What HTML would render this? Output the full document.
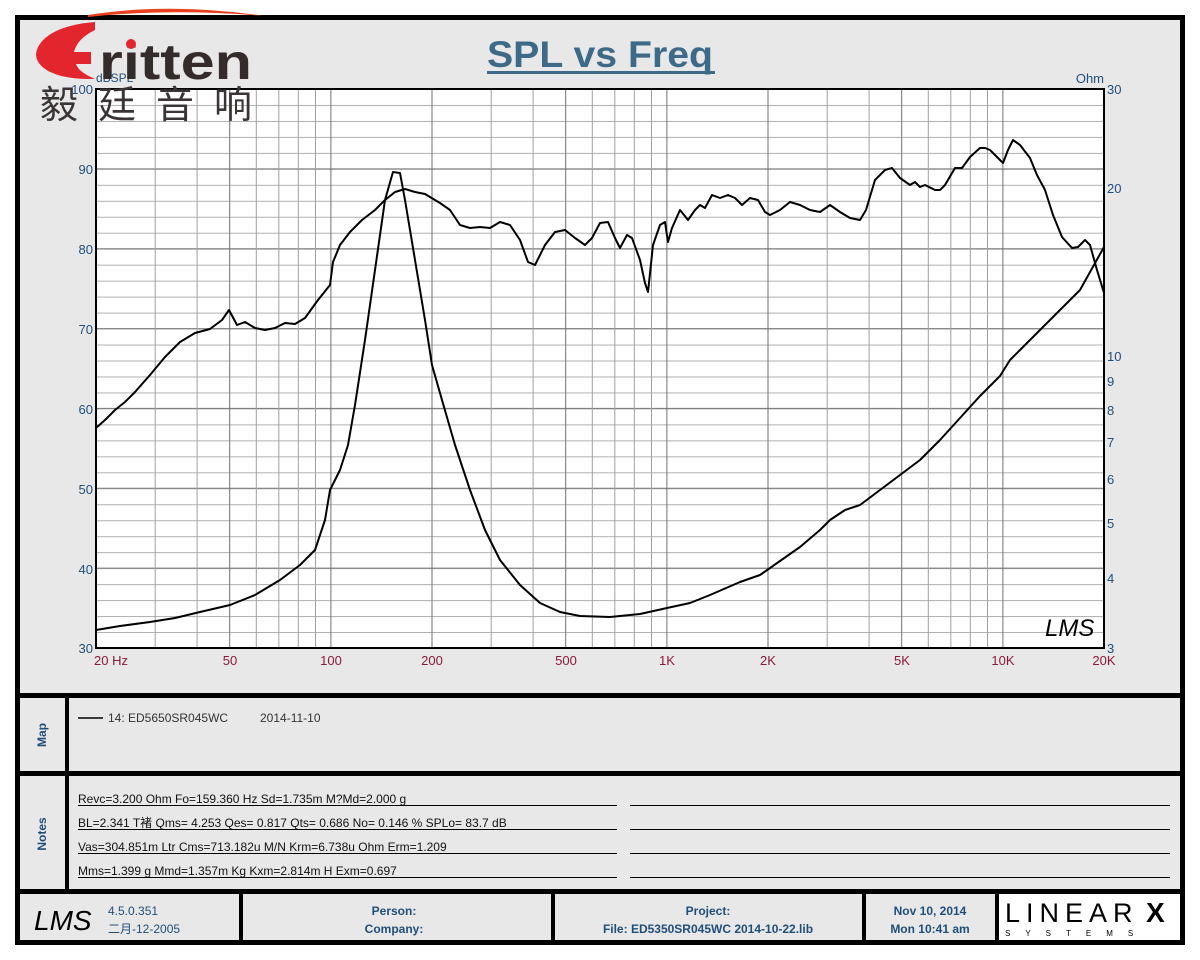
<!DOCTYPE html>
<html><head><meta charset="utf-8"><style>
html,body{margin:0;padding:0;background:#fff;}
svg{display:block;}
text{font-family:"Liberation Sans","Noto Sans CJK SC",sans-serif;}
</style></head><body>
<svg width="1200" height="960" viewBox="0 0 1200 960" xmlns="http://www.w3.org/2000/svg">
<defs>
<pattern id="hmin" patternUnits="userSpaceOnUse" x="0" y="89" width="10" height="15.971"><line x1="0" y1="0.5" x2="10" y2="0.5" stroke="#b0b0b0" stroke-width="1"/></pattern>
</defs>
<rect x="0" y="0" width="1200" height="960" fill="#fff"/>
<rect x="17.5" y="17.5" width="1165" height="925" fill="#e8e8e8" stroke="#000" stroke-width="5"/>
<!-- plot -->
<rect x="96" y="89" width="1008" height="559" fill="#fff"/>
<rect x="96" y="89" width="1008" height="559" fill="url(#hmin)"/>
<g stroke="#7a7a7a" stroke-width="1">
<line x1="96" x2="1104" y1="168.9" y2="168.9"/><line x1="96" x2="1104" y1="248.7" y2="248.7"/><line x1="96" x2="1104" y1="328.6" y2="328.6"/><line x1="96" x2="1104" y1="408.4" y2="408.4"/><line x1="96" x2="1104" y1="488.3" y2="488.3"/><line x1="96" x2="1104" y1="568.1" y2="568.1"/>
</g>
<g stroke="#a0a0a0" stroke-width="1">
<line x1="155.2" x2="155.2" y1="89" y2="648"/><line x1="197.1" x2="197.1" y1="89" y2="648"/><line x1="256.3" x2="256.3" y1="89" y2="648"/><line x1="278.8" x2="278.8" y1="89" y2="648"/><line x1="298.3" x2="298.3" y1="89" y2="648"/><line x1="315.5" x2="315.5" y1="89" y2="648"/>
<line x1="491.2" x2="491.2" y1="89" y2="648"/><line x1="533.1" x2="533.1" y1="89" y2="648"/><line x1="592.3" x2="592.3" y1="89" y2="648"/><line x1="614.8" x2="614.8" y1="89" y2="648"/><line x1="634.3" x2="634.3" y1="89" y2="648"/><line x1="651.5" x2="651.5" y1="89" y2="648"/>
<line x1="827.2" x2="827.2" y1="89" y2="648"/><line x1="869.1" x2="869.1" y1="89" y2="648"/><line x1="928.3" x2="928.3" y1="89" y2="648"/><line x1="950.8" x2="950.8" y1="89" y2="648"/><line x1="970.3" x2="970.3" y1="89" y2="648"/><line x1="987.5" x2="987.5" y1="89" y2="648"/>
</g>
<g stroke="#707070" stroke-width="1">
<line x1="229.7" x2="229.7" y1="89" y2="648"/><line x1="330.9" x2="330.9" y1="89" y2="648"/><line x1="432" x2="432" y1="89" y2="648"/><line x1="565.7" x2="565.7" y1="89" y2="648"/><line x1="666.9" x2="666.9" y1="89" y2="648"/><line x1="768" x2="768" y1="89" y2="648"/><line x1="901.7" x2="901.7" y1="89" y2="648"/><line x1="1002.9" x2="1002.9" y1="89" y2="648"/>
</g>
<polyline fill="none" stroke="#000" stroke-width="2" stroke-linejoin="round" points="96,428 105,420 115,410 125,402 135,392 150,375 165,357 180,342 195,333 210,329 222,320 229,310 237,325 245,322 255,328 265,330 275,328 285,323 295,324 305,318 318,300 330,285 333,262 340,245 350,232 362,220 375,210 385,200 395,192 405,189 415,192 425,194 440,203 450,210 460,225 470,228 480,227 490,228 500,222 510,225 520,240 528,262 535,265 545,245 555,232 565,230 575,238 585,245 592,238 600,223 608,222 615,238 620,248 627,235 632,238 640,260 645,283 648,292 653,245 660,225 665,222 668,242 672,228 680,210 688,220 695,210 700,205 705,208 712,195 720,198 728,195 735,198 742,205 750,198 758,200 765,212 770,215 780,210 790,202 800,205 810,210 820,212 830,205 840,212 850,218 860,220 866,210 875,180 885,170 892,168 900,178 910,185 915,182 920,187 925,185 935,190 940,190 945,185 955,168 962,168 970,157 980,148 985,148 990,150 997,157 1003,163 1008,150 1013,140 1020,145 1030,158 1037,175 1045,190 1053,215 1062,237 1072,248 1078,247 1085,240 1090,245 1097,270 1104,293"/>
<polyline fill="none" stroke="#000" stroke-width="2" stroke-linejoin="round" points="96,630 120,626 150,622 175,618 200,612 230,605 255,595 280,580 300,565 315,550 325,520 330,490 340,470 348,445 355,405 365,340 375,270 385,200 393,172 400,173 405,200 415,260 425,320 432,365 442,400 455,445 470,490 485,530 500,560 520,585 540,603 560,612 580,616 610,617 640,614 667,608 690,603 710,595 740,582 760,575 780,561 800,547 820,530 830,520 845,510 860,505 880,490 900,475 920,460 940,440 960,418 980,396 1000,376 1010,360 1020,350 1040,330 1060,310 1080,290 1104,247"/>
<rect x="96" y="89" width="1008" height="559" fill="none" stroke="#000" stroke-width="2"/>
<text x="1045" y="636" font-family="Liberation Serif,serif" font-style="italic" font-size="24" fill="#000">LMS</text>
<!-- axis labels -->
<g fill="#1f4e79" font-size="13" text-anchor="end">
<text x="93" y="94">100</text><text x="93" y="174">90</text><text x="93" y="254">80</text><text x="93" y="334">70</text><text x="93" y="414">60</text><text x="93" y="494">50</text><text x="93" y="574">40</text><text x="93" y="653">30</text>
</g>
<text x="96" y="82" fill="#1f4e79" font-size="12">dBSPL</text>
<g fill="#1f4e79" font-size="13">
<text x="1107" y="94">30</text><text x="1107" y="193">20</text><text x="1107" y="361">10</text><text x="1107" y="386">9</text><text x="1107" y="415">8</text><text x="1107" y="447">7</text><text x="1107" y="484">6</text><text x="1107" y="528">5</text><text x="1107" y="583">4</text><text x="1107" y="653">3</text>
</g>
<text x="1104" y="83" fill="#1f4e79" font-size="13" text-anchor="end">Ohm</text>
<g fill="#8b1a3a" font-size="13" text-anchor="middle">
<text x="111" y="665">20  Hz</text><text x="230" y="665">50</text><text x="331" y="665">100</text><text x="432" y="665">200</text><text x="566" y="665">500</text><text x="667" y="665">1K</text><text x="768" y="665">2K</text><text x="902" y="665">5K</text><text x="1003" y="665">10K</text><text x="1104" y="665">20K</text>
</g>
<!-- title -->
<text x="600" y="67" text-anchor="middle" font-size="37" font-weight="bold" fill="#3d6a88" textLength="226" lengthAdjust="spacingAndGlyphs">SPL vs Freq</text>
<rect x="487" y="71" width="228" height="3" fill="#3d6a88"/>
<!-- logo -->
<path d="M88,15 Q170,2 265,16 Q170,8 88,17 Z" fill="#e8401c"/>
<path d="M95,22 C55,25 37,40 36,55 C37,68 55,80 95,79 C84,74 78,70 76,64 L91,64 L91,52 L74,52 C77,42 83,36 95,30 Z" fill="#e3262e"/>
<text x="99" y="79" font-size="50" font-weight="bold" fill="#332c2a" textLength="153" lengthAdjust="spacingAndGlyphs">ritten</text>
<circle cx="131" cy="44" r="5" fill="#e3262e"/>
<text x="40" y="118" font-size="38" fill="#3a3434" font-family="Noto Sans CJK SC,sans-serif" letter-spacing="20">毅廷音响</text>
<!-- separators -->
<rect x="15" y="693" width="1170" height="5" fill="#000"/>
<rect x="15" y="771" width="1170" height="5" fill="#000"/>
<rect x="15" y="889" width="1170" height="5" fill="#000"/>
<rect x="65" y="693" width="4" height="200" fill="#000"/>
<text transform="translate(46,735) rotate(-90)" text-anchor="middle" font-size="12" font-weight="bold" fill="#1f4e79">Map</text>
<text transform="translate(46,834) rotate(-90)" text-anchor="middle" font-size="12" font-weight="bold" fill="#1f4e79">Notes</text>
<line x1="78" y1="718" x2="103" y2="718" stroke="#000" stroke-width="1.5"/>
<text x="108" y="722" font-size="12" fill="#333">14: ED5650SR045WC</text>
<text x="260" y="722" font-size="12" fill="#333">2014-11-10</text>
<g font-size="12" fill="#111">
<text x="78" y="803">Revc=3.200 Ohm  Fo=159.360 Hz  Sd=1.735m M?Md=2.000 g</text>
<text x="78" y="827">BL=2.341 T褚  Qms= 4.253  Qes= 0.817  Qts= 0.686  No= 0.146 %  SPLo= 83.7 dB</text>
<text x="78" y="851">Vas=304.851m Ltr  Cms=713.182u M/N  Krm=6.738u Ohm  Erm=1.209</text>
<text x="78" y="875">Mms=1.399 g  Mmd=1.357m Kg  Kxm=2.814m H  Exm=0.697</text>
</g>
<g stroke="#000" stroke-width="1">
<line x1="78" x2="617" y1="805.5" y2="805.5"/><line x1="78" x2="617" y1="829.5" y2="829.5"/><line x1="78" x2="617" y1="853.5" y2="853.5"/><line x1="78" x2="617" y1="877.5" y2="877.5"/>
<line x1="630" x2="1170" y1="805.5" y2="805.5"/><line x1="630" x2="1170" y1="829.5" y2="829.5"/><line x1="630" x2="1170" y1="853.5" y2="853.5"/><line x1="630" x2="1170" y1="877.5" y2="877.5"/>
</g>
<!-- footer -->
<rect x="239" y="891" width="4" height="52" fill="#000"/>
<rect x="551" y="891" width="4" height="52" fill="#000"/>
<rect x="862" y="891" width="4" height="52" fill="#000"/>
<rect x="995" y="891" width="4" height="52" fill="#000"/>
<rect x="999" y="894" width="181" height="46" fill="#fff"/>
<text x="34" y="930" font-family="Liberation Serif,serif" font-style="italic" font-size="28" fill="#000">LMS</text>
<g font-size="12" fill="#1f4e79">
<text x="108" y="915">4.5.0.351</text><text x="108" y="933">二月-12-2005</text>
</g>
<g font-size="12" fill="#1f4e79" font-weight="bold" text-anchor="middle">
<text x="394" y="915">Person:</text><text x="394" y="933">Company:</text>
<text x="708" y="915">Project:</text><text x="708" y="933">File: ED5350SR045WC   2014-10-22.lib</text>
<text x="930" y="915">Nov 10, 2014</text><text x="930" y="933">Mon 10:41 am</text>
</g>
<text x="1005" y="922" font-family="Liberation Serif,serif" font-size="27" fill="#000" letter-spacing="6">LINEAR</text>
<text x="1146" y="922" font-size="28" font-weight="bold" fill="#000">X</text>
<text x="1005" y="936" font-size="8" fill="#000" letter-spacing="15">SYSTEMS</text>
</svg>
</body></html>
